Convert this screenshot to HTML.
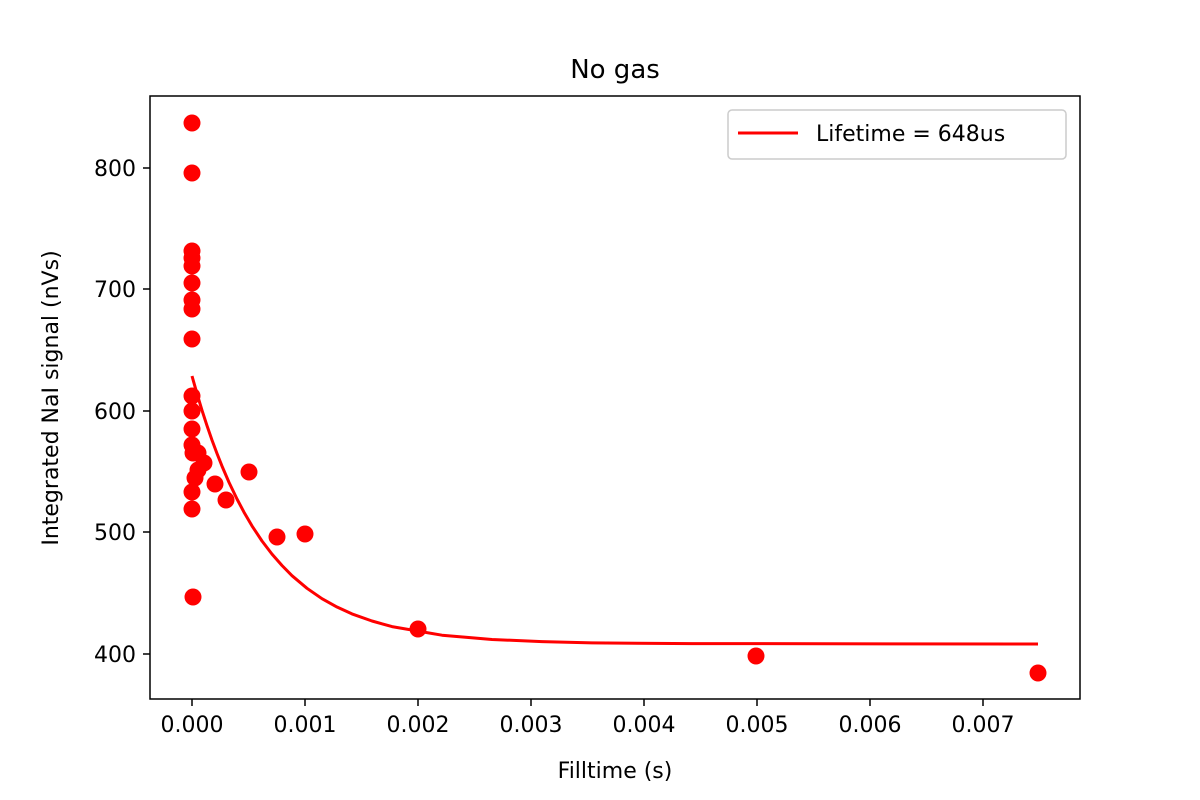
<!DOCTYPE html><html><head><style>body{margin:0;background:#fff}svg{display:block}text{font-family:"DejaVu Sans","Liberation Sans",sans-serif;fill:#000}</style></head><body>
<svg width="1200" height="800" viewBox="0 0 1200 800">
<rect width="1200" height="800" fill="#fff"/>
<g fill="#ff0000">
<circle cx="192" cy="123" r="8.5"/><circle cx="192" cy="173" r="8.5"/><circle cx="192" cy="251" r="8.5"/><circle cx="192" cy="258" r="8.5"/><circle cx="192" cy="266" r="8.5"/><circle cx="192" cy="283" r="8.5"/><circle cx="192" cy="300" r="8.5"/><circle cx="192" cy="309" r="8.5"/><circle cx="192" cy="339" r="8.5"/><circle cx="192" cy="396" r="8.5"/><circle cx="192" cy="411" r="8.5"/><circle cx="192" cy="429" r="8.5"/><circle cx="192" cy="445" r="8.5"/><circle cx="193" cy="453" r="8.5"/><circle cx="198" cy="453" r="8.5"/><circle cx="204" cy="463" r="8.5"/><circle cx="198" cy="470" r="8.5"/><circle cx="195" cy="478" r="8.5"/><circle cx="192" cy="492" r="8.5"/><circle cx="192" cy="509" r="8.5"/><circle cx="193" cy="597" r="8.5"/><circle cx="215" cy="484" r="8.5"/><circle cx="226" cy="500" r="8.5"/><circle cx="249" cy="472" r="8.5"/><circle cx="277" cy="537" r="8.5"/><circle cx="305" cy="534" r="8.5"/><circle cx="418" cy="629" r="8.5"/><circle cx="756" cy="656" r="8.5"/><circle cx="1038" cy="673" r="8.5"/>
</g>
<polyline fill="none" stroke="#ff0000" stroke-width="3" stroke-linejoin="round" points="192,376 197,393.7 202,410.3 207,425.7 212,440.1 217,453.5 222,466.1 229,482.4 237,499 244,512.2 252,525.9 262,541 272,554.1 282,565.5 292,575.7 307,588.3 322,598.7 337,607 352,613.9 372,621 392,626.6 442,635.2 492,639.5 542,641.6 592,642.9 692,643.6 1038,644"/>
<rect x="150" y="96" width="930" height="603" fill="none" stroke="#000" stroke-width="1.5"/>
<g stroke="#000" stroke-width="1.5">
<line x1="192" y1="699" x2="192" y2="706"/><line x1="305" y1="699" x2="305" y2="706"/><line x1="418" y1="699" x2="418" y2="706"/><line x1="531" y1="699" x2="531" y2="706"/><line x1="644" y1="699" x2="644" y2="706"/><line x1="757" y1="699" x2="757" y2="706"/><line x1="870" y1="699" x2="870" y2="706"/><line x1="983" y1="699" x2="983" y2="706"/>
<line x1="143" y1="168" x2="150" y2="168"/><line x1="143" y1="289" x2="150" y2="289"/><line x1="143" y1="411" x2="150" y2="411"/><line x1="143" y1="532" x2="150" y2="532"/><line x1="143" y1="654" x2="150" y2="654"/>
</g>
<g font-size="22" text-anchor="middle">
<text x="192" y="732">0.000</text><text x="305" y="732">0.001</text><text x="418" y="732">0.002</text><text x="531" y="732">0.003</text><text x="644" y="732">0.004</text><text x="757" y="732">0.005</text><text x="870" y="732">0.006</text><text x="983" y="732">0.007</text>
</g>
<g font-size="22" text-anchor="end">
<text x="136" y="176">800</text><text x="136" y="297">700</text><text x="136" y="419">600</text><text x="136" y="540">500</text><text x="136" y="662">400</text>
</g>
<text x="615" y="778" font-size="22" text-anchor="middle">Filltime (s)</text>
<text transform="translate(58,398) rotate(-90)" font-size="22" text-anchor="middle">Integrated NaI signal (nVs)</text>
<text x="615" y="78" font-size="26" text-anchor="middle">No gas</text>
<rect x="728" y="110" width="338" height="49" rx="4" fill="#fff" stroke="#ccc" stroke-width="1.5"/>
<line x1="738" y1="133" x2="798" y2="133" stroke="#ff0000" stroke-width="3"/>
<text x="816" y="141" font-size="22">Lifetime = 648us</text>
</svg>
</body></html>
